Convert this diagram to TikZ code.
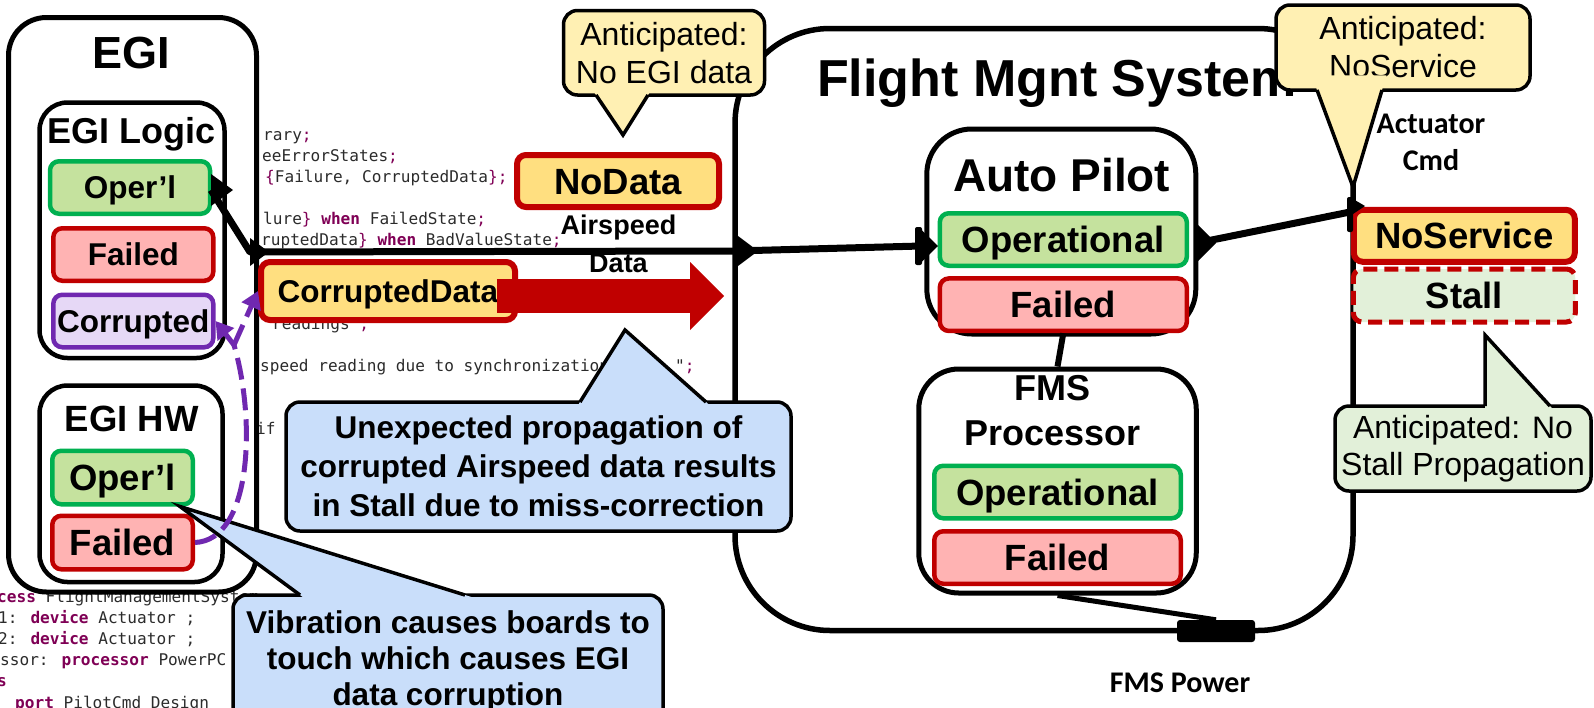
\documentclass[tikz,border=0pt]{standalone}
\usepackage{fontspec}
\setmainfont{Liberation Sans}
\newfontfamily\calfont{Carlito}
\newfontfamily\codefont{DejaVu Sans Mono}
\usepackage{xcolor}
\usetikzlibrary{arrows.meta,positioning,calc}
\definecolor{opgreen}{HTML}{00B050}
\definecolor{opfill}{HTML}{C5E29E}
\definecolor{failred}{HTML}{C00000}
\definecolor{failfill}{HTML}{FFB3B3}
\definecolor{corrpurple}{HTML}{7028B0}
\definecolor{corrfill}{HTML}{E6D8F6}
\definecolor{errfill}{HTML}{FFDF80}
\definecolor{notefill}{HTML}{FFF0B3}
\definecolor{bluefill}{HTML}{C9DEFA}
\definecolor{stallfill}{HTML}{E2F0D9}
\definecolor{kwpurple}{HTML}{7F0055}
\definecolor{codegray}{HTML}{2B2B2B}
\newcommand{\kw}[1]{\textcolor{kwpurple}{\bfseries #1}}
\newcommand{\pn}[1]{\textcolor{kwpurple}{#1}}
% pointer of a note: fill colour, tip, base left, base right
\newcommand{\notetail}[4]{%
  \fill[#1] ($(#2)!1.15!(#3)$) -- (#2) -- ($(#2)!1.15!(#4)$) -- cycle;
  \draw[line width=3.5pt] (#3) -- (#2) -- (#4);}
\tikzset{
  blk/.style={draw, fill=white, line width=5pt, inner sep=0pt},
  ttl/.style={anchor=base, inner sep=0pt},
  st/.style={draw, line width=4.5pt, rounded corners=9pt, inner sep=0pt},
  stsm/.style={font=\fontsize{31.5}{36}\selectfont\bfseries, text height=22.5pt, text depth=0pt},
  stlg/.style={font=\fontsize{36.5}{42}\selectfont\bfseries, text height=26pt, text depth=0pt},
  oper/.style={st, draw=opgreen, fill=opfill},
  fail/.style={st, draw=failred, fill=failfill},
  corr/.style={st, draw=corrpurple, fill=corrfill},
  errst/.style={st, draw=failred, fill=errfill, line width=6pt},
  note/.style={draw, line width=3.5pt, rounded corners=14pt, inner sep=0pt, align=center},
  code/.style={font=\codefont\fontsize{16.1}{21}\selectfont, text=codegray, anchor=base west, inner sep=0pt},
  calbl/.style={font=\calfont\fontsize{30}{37}\selectfont\bfseries, align=center, inner sep=0pt},
  conn/.style={line width=7pt, line join=round},
  vibr/.style={draw=corrpurple, line width=5pt, dash pattern=on 22pt off 9pt,
               -{Triangle[length=17pt,width=20pt]}},
  bigred/.style={draw=failred, line width=34pt,
                 -{Triangle[length=34pt,width=68pt,line width=0pt]}}
}
\begin{document}
\begin{tikzpicture}[x=1pt,y=-1pt]
\clip (0,0) rectangle (1594,707);

% code listing in the background
\node[code] (c1) at (263,140.5) {rary\pn{;}};
\node[code] (c2) at (262,161.5) {eeErrorStates\pn{;}};
\node[code] (c3) at (265,182.5) {\pn{\{}Failure, CorruptedData\pn{\};}};
\node[code] (c4) at (263,224.5) {lure\pn{\}} \kw{when} FailedState\pn{;}};
\node[code] (c5) at (261,245.5) {ruptedData\pn{\}} \kw{when} BadValueState\pn{;}};
\node[code] (c6) at (272,329.5) {readings"\pn{;}};
\node[code] (c7) at (260,371.5) {speed reading due to synchronization};
\node[code] (c8) at (675,371.5) {"\pn{;}};
\node[code] (c9) at (256,434.5) {if};
\node[code] (c10) at (-3,602.5) {\kw{cess} FlightManagementSystem};
\node[code] (c11) at (-2,623.5) {1: \kw{device} Actuator ;};
\node[code] (c12) at (-2,644.5) {2: \kw{device} Actuator ;};
\node[code] (c13) at (0,665.5) {ssor: \kw{processor} PowerPC};
\node[code] (c14) at (-3,686.5) {\kw{s}};
\node[code] (c15) at (15,708) {\kw{port} PilotCmd Design};

% flight management system
\node[blk, line width=5.5pt, rounded corners=95pt, minimum width=618pt, minimum height=602pt] (fms) at (1044,329.5) {};
\node[ttl, anchor=base west, font=\fontsize{52}{52}\selectfont\bfseries] (fmsttl) at (817,96.5) {Flight Mgnt System};
\node[blk, rounded corners=45pt, minimum width=269pt, minimum height=205pt] (ap) at (1061.3,231.5) {};
\node[ttl, font=\fontsize{46}{46}\selectfont\bfseries] (apttl) at (1061.7,191.7) {Auto Pilot};
\node[oper, stlg, minimum width=247pt, minimum height=52.5pt] (apop) at (1063.3,239.5) {Operational};
\node[fail, stlg, minimum width=247pt, minimum height=52.5pt] (apfail) at (1063.3,304.7) {Failed};
\node[blk, rounded corners=40pt, minimum width=277.5pt, minimum height=224pt] (proc) at (1057.5,481) {};
\node[ttl, font=\fontsize{36}{36}\selectfont\bfseries] (procttl) at (1052.3,400) {FMS};
\node[ttl, font=\fontsize{36}{36}\selectfont\bfseries] (procttlb) at (1052.3,445) {Processor};
\node[oper, stlg, minimum width=246.5pt, minimum height=52.5pt] (prop) at (1057.5,492) {Operational};
\node[fail, stlg, minimum width=246.5pt, minimum height=52.5pt] (prfail) at (1057.5,557.5) {Failed};
\node[fill=black, rounded corners=3pt, minimum width=78pt, minimum height=22pt, inner sep=0pt] (pwr) at (1216,631) {};
\node[calbl, anchor=base] (pwrlbl) at (1180,692) {FMS Power};

% EGI
\node[blk, rounded corners=38pt, minimum width=248pt, minimum height=574.5pt] (egi) at (132.5,304.75) {};
\node[ttl, font=\fontsize{45}{45}\selectfont\bfseries] (egittl) at (131,68) {EGI};
\node[blk, line width=4.5pt, rounded corners=28pt, minimum width=185pt, minimum height=255.5pt] (logic) at (132,230.25) {};
\node[ttl, font=\fontsize{36}{36}\selectfont\bfseries] (logicttl) at (131.7,143.3) {EGI Logic};
\node[oper, stsm, minimum width=160pt, minimum height=52.5pt] (lop) at (130,187.5) {Oper’l};
\node[fail, stsm, minimum width=160pt, minimum height=52.5pt] (lfail) at (133.3,254.5) {Failed};
\node[corr, stsm, minimum width=160pt, minimum height=52.5pt] (lcorr) at (133.3,321) {Corrupted};
\node[blk, line width=4.5pt, rounded corners=28pt, minimum width=183pt, minimum height=196.5pt] (hw) at (131,483.75) {};
\node[ttl, font=\fontsize{36.5}{36.5}\selectfont\bfseries] (hwttl) at (131.7,431.7) {EGI HW};
\node[oper, stlg, minimum width=140.5pt, minimum height=53.5pt] (hop) at (122.5,477.5) {Oper’l};
\node[fail, stlg, minimum width=140.5pt, minimum height=53.5pt] (hfail) at (122.5,542.5) {Failed};

% error types on the data port
\node[errst, stsm, minimum width=254pt, minimum height=58pt] (cdata) at (388,291) {CorruptedData};
\node[errst, stlg, minimum width=202pt, minimum height=52pt] (nodata) at (618,181) {NoData};
\node[font=\fontsize{27}{38}\selectfont\bfseries, align=center, inner sep=0pt] (aslbl) at (618.5,244) {Airspeed\\Data};

% actuator side
\node[errst, stlg, minimum width=221pt, minimum height=52pt] (noserv) at (1464.3,235.8) {NoService};
\node[st, stlg, draw=failred, fill=stallfill, line width=5pt, dash pattern=on 14pt off 7pt,
      minimum width=222pt, minimum height=53pt, below=1.7pt of noserv] (stall) {Stall};
\node[calbl] (actlbl) at (1431,142) {Actuator\\Cmd};

% connections
\coordinate (lopport) at (211,190);
\coordinate (egiport) at (250,252);
\coordinate (fmsport) at (734,251);
\coordinate (apin) at (921,246);
\coordinate (apout) at (1197,243);
\coordinate (nsin) at (1350,212);
\draw[conn] (lopport) -- (egiport) -- (fmsport) -- (apin);
\fill (lopport) ++(0,-16) -- ++(22,16) -- ++(-22,16) -- cycle;
\fill (egiport) ++(0,-14) -- ++(19,14) -- ++(-19,14) -- cycle;
\fill (fmsport) ++(0,-18) -- ++(24,18) -- ++(-24,18) -- cycle;
\fill[rounded corners=2pt] (apin) ++(-6,-19) rectangle ++(7,38);
\fill (apin) ++(0,-16.5) -- ++(17,16.5) -- ++(-17,16.5) -- cycle;
\fill (apout) ++(0,-19) -- ++(19,19) -- ++(-19,19) -- cycle;
\draw[conn] (apout) -- (nsin);
\fill[rounded corners=2pt] (nsin) ++(-3,-15) rectangle ++(6,35);
\fill (nsin) ++(3,-13) -- ++(12,7) -- ++(-12,8) -- cycle;
\draw[line width=6pt] (apfail.south) -- (proc.north);
\draw[line width=5pt] (proc.south) -- (pwr.north);

% propagated corrupted data
\coordinate (redstart) at (497,296);
\coordinate (redtip) at (724,296);
\draw[bigred] (redstart) -- (redtip);

% notes
\node[note, fill=notefill, font=\fontsize{32}{37.7}\selectfont, minimum width=201pt, minimum height=84.5pt] (noegi) at (664,52.75) {Anticipated:\\No EGI data};
\coordinate (noegitip) at (623,135);
\coordinate (noegia) at (596,95);
\coordinate (noegib) at (648,95);
\notetail{notefill}{noegitip}{noegia}{noegib}

\node[note, fill=notefill, font=\fontsize{32}{38}\selectfont, minimum width=254pt, minimum height=85pt] (nsnote) at (1403,47.5) {Anticipated:\\NoService};
\coordinate (nsnotetip) at (1353,187);
\coordinate (nsnotea) at (1317,90);
\coordinate (nsnoteb) at (1382,90);
\notetail{notefill}{nsnotetip}{nsnotea}{nsnoteb}

\node[note, fill=stallfill, font=\fontsize{32}{36.7}\selectfont, minimum width=256pt, minimum height=85pt] (stnote) at (1463,448.5) {Anticipated: No\\Stall Propagation};
\coordinate (stnotetip) at (1485,335);
\coordinate (stnotea) at (1485,406);
\coordinate (stnoteb) at (1550,406);
\notetail{stallfill}{stnotetip}{stnotea}{stnoteb}

\node[note, fill=bluefill, font=\fontsize{31.5}{39}\selectfont\bfseries, minimum width=505pt, minimum height=129pt] (unexp) at (538.5,466.5) {Unexpected propagation of\\corrupted Airspeed data results\\in Stall due to miss-correction};
\coordinate (unexptip) at (625,330);
\coordinate (unexpa) at (580,402);
\coordinate (unexpb) at (706,402);
\notetail{bluefill}{unexptip}{unexpa}{unexpb}

\node[note, fill=bluefill, font=\fontsize{31.5}{36}\selectfont\bfseries, minimum width=430pt, minimum height=132pt] (vib) at (448,661) {Vibration causes boards to\\touch which causes EGI\\data corruption};
\coordinate (vibtip) at (180,506.5);
\coordinate (viba) at (300,595);
\coordinate (vibb) at (465,595);
\notetail{bluefill}{vibtip}{viba}{vibb}

% vibration effect
\coordinate (vsplit) at (234,345);
\draw[vibr, -] (hfail.east) .. controls (252,540) and (256,420) .. (vsplit);
\draw[vibr] (vsplit) -- (lcorr.east);
\draw[vibr] (vsplit) -- (cdata.west);
\end{tikzpicture}
\end{document}
